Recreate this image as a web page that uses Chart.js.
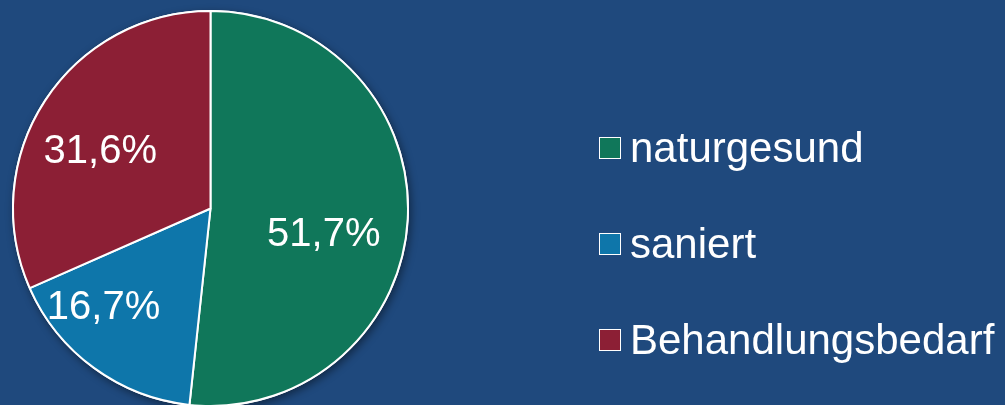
<!DOCTYPE html>
<html>
<head>
<meta charset="utf-8">
<script src="https://cdn.jsdelivr.net/npm/chart.js@4"></script>
<style>
  html,body{margin:0;padding:0;background:#1F497D;overflow:hidden}
  #wrap{position:absolute;left:0;top:0;width:1005px;height:417px}
</style>
</head>
<body>
<div id="wrap"><canvas id="pie"></canvas></div>
<script>
// Zahngesundheit – Anteile
const labels=['naturgesund','saniert','Behandlungsbedarf'];
const values=[51.7,16.7,31.6];
const colors=['#10775A','#0E76AA','#8C1F35'];

const fmt=v=>v.toFixed(1).replace('.',',')+'%';

// leichter Schatten unter dem Kreis
const pieShadow={id:'pieShadow',
  beforeDatasetsDraw(chart){
    const a=chart.getDatasetMeta(0).data[0];if(!a)return;
    const {x,y,outerRadius}=a.getProps(['x','y','outerRadius'],true);
    const ctx=chart.ctx;
    ctx.save();
    ctx.shadowColor='rgba(0,0,0,0.45)';ctx.shadowBlur=8;ctx.shadowOffsetX=2;ctx.shadowOffsetY=3;
    ctx.beginPath();ctx.arc(x,y,outerRadius+1,0,Math.PI*2);
    ctx.fillStyle='#fff';ctx.fill();
    ctx.restore();
  }};

// Prozentwerte in den Segmenten
const sliceLabels={id:'sliceLabels',
  afterDatasetsDraw(chart,args,opts){
    const ctx=chart.ctx;
    ctx.save();
    ctx.font=opts.font;ctx.fillStyle='#fff';
    ctx.textAlign='center';ctx.textBaseline='middle';
    chart.getDatasetMeta(0).data.forEach((arc,i)=>{
      const p=arc.getProps(['x','y','startAngle','endAngle','outerRadius'],true);
      const mid=(p.startAngle+p.endAngle)/2, r=p.outerRadius*opts.radius;
      const n=opts.nudge[i]||[0,0];
      ctx.fillText(fmt(values[i]),p.x+Math.cos(mid)*r+n[0],p.y+Math.sin(mid)*r+n[1]);
    });
    ctx.restore();
  }};

// Legende rechts
const sideLegend={id:'sideLegend',
  afterDraw(chart,args,o){
    const ctx=chart.ctx;
    ctx.save();
    ctx.font=o.font;ctx.textAlign='left';ctx.textBaseline='alphabetic';
    labels.forEach((l,i)=>{
      const cy=o.y+i*o.step;
      ctx.fillStyle=colors[i];
      ctx.fillRect(o.x,cy-o.box/2,o.box,o.box);
      ctx.strokeStyle='#fff';ctx.lineWidth=1;
      ctx.strokeRect(o.x+0.5,cy-o.box/2+0.5,o.box-1,o.box-1);
      ctx.fillStyle='#fff';
      ctx.fillText(l,o.x+o.box+o.gap,cy+14);
    });
    ctx.restore();
  }};

new Chart(document.getElementById('pie'),{
  type:'pie',
  data:{labels,datasets:[{data:values,backgroundColor:colors,borderColor:'#fff',borderWidth:2}]},
  options:{
    responsive:true,maintainAspectRatio:false,animation:false,
    layout:{padding:{left:12,top:10,bottom:10,right:596}},
    plugins:{
      legend:{display:false},tooltip:{enabled:false},
      sliceLabels:{font:'40px "Liberation Sans", Arial, sans-serif',radius:0.6,nudge:[[-5,20],[-37,4],[-11,8]]},
      sideLegend:{font:'42px "Liberation Sans", Arial, sans-serif',x:599,y:148,step:96,box:22,gap:9}
    }
  },
  plugins:[pieShadow,sliceLabels,sideLegend]
});
</script>
</body>
</html>
